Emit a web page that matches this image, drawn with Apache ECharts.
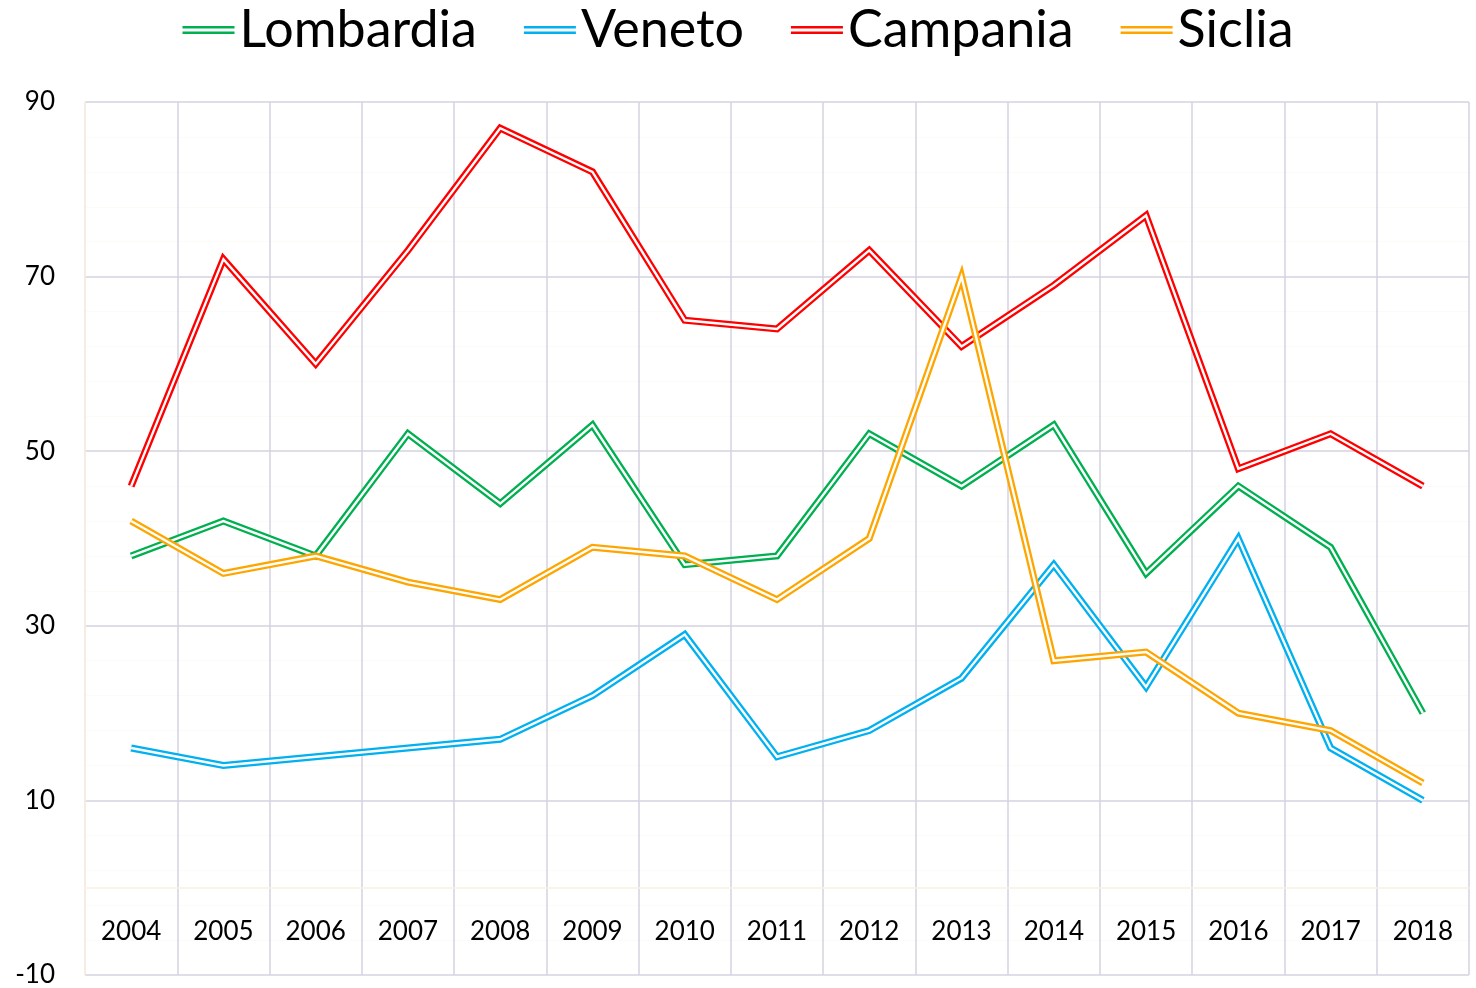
<!DOCTYPE html>
<html>
<head>
<meta charset="utf-8">
<script src="https://cdn.jsdelivr.net/npm/echarts@6/dist/echarts.min.js"></script>
<style>
html,body{margin:0;padding:0;background:#fff;}
#chart{width:1476px;height:988px;}
</style>
</head>
<body>
<div id="chart"></div>
<script>
const years = ['2004','2005','2006','2007','2008','2009','2010','2011','2012','2013','2014','2015','2016','2017','2018'];
const lombardia = [38, 42, 38, 52, 44, 53, 37, 38, 52, 46, 53, 36, 46, 39, 20];
const veneto    = [16, 14, 15, 16, 17, 22, 29, 15, 18, 24, 37, 23, 40, 16, 10];
const campania  = [46, 72, 60, 73, 87, 82, 65, 64, 73, 62, 69, 77, 48, 52, 46];
const sicilia   = [42, 36, 38, 35, 33, 39, 38, 33, 40, 70, 26, 27, 20, 18, 12];
const names = ['Lombardia','Veneto','Campania','Siclia'];
const colors = ['#00b050','#00b0f0','#ff0000','#ffa500'];
const seriesData = [lombardia, veneto, campania, sicilia];

const FONT = 'Lato';
const series = [];
seriesData.forEach((d, i) => {
  series.push({
    name: names[i], type: 'line', data: d, symbol: 'none',
    color: colors[i],
    lineStyle: {width: 7, color: colors[i], join: 'miter', miterLimit: 20},
    z: 2 + i * 2
  });
  series.push({
    name: names[i] + '_inner', type: 'line', data: d, symbol: 'none',
    lineStyle: {width: 2.4, color: '#ffffff', join: 'miter', miterLimit: 20},
    z: 3 + i * 2, silent: true
  });
});

const chart = echarts.init(document.getElementById('chart'));
chart.setOption({
  animation: false,
  backgroundColor: '#ffffff',
  legend: {
    data: names,
    top: -1,
    left: 'center',
    itemGap: 47,
    itemWidth: 52,
    itemHeight: 8,
    icon: 'path://M0,0H52V2.6H0Z M0,5.4H52V8H0Z',
    textStyle: {fontFamily: FONT, fontSize: 52, color: '#000', padding: [0,0,0,0]}
  },
  grid: {left: 85, right: 7, top: 102, bottom: 13, containLabel: false, outerBoundsMode: 'none'},
  xAxis: {
    type: 'category',
    data: years,
    boundaryGap: true,
    axisLine: {show: true, onZero: true, lineStyle: {color: '#fdf1e2', width: 1.5}},
    axisTick: {show: false},
    axisLabel: {fontFamily: FONT, fontSize: 26, color: '#000', inside: true, margin: 30},
    splitLine: {show: true, lineStyle: {color: '#d3d2e1', width: 1.5}}
  },
  yAxis: {
    type: 'value',
    min: -10, max: 90, interval: 20,
    axisLine: {show: true, lineStyle: {color: '#fdf1e2', width: 1.5}},
    axisTick: {show: false},
    axisLabel: {fontFamily: FONT, fontSize: 26, color: '#000', margin: 30},
    splitLine: {show: true, lineStyle: {color: '#d3d2e1', width: 1.5}},
    minorTick: {show: false, splitNumber: 5},
    minorSplitLine: {show: true, lineStyle: {color: '#fcfbf6', width: 1}}
  },
  series: series
});
</script>
</body>
</html>
